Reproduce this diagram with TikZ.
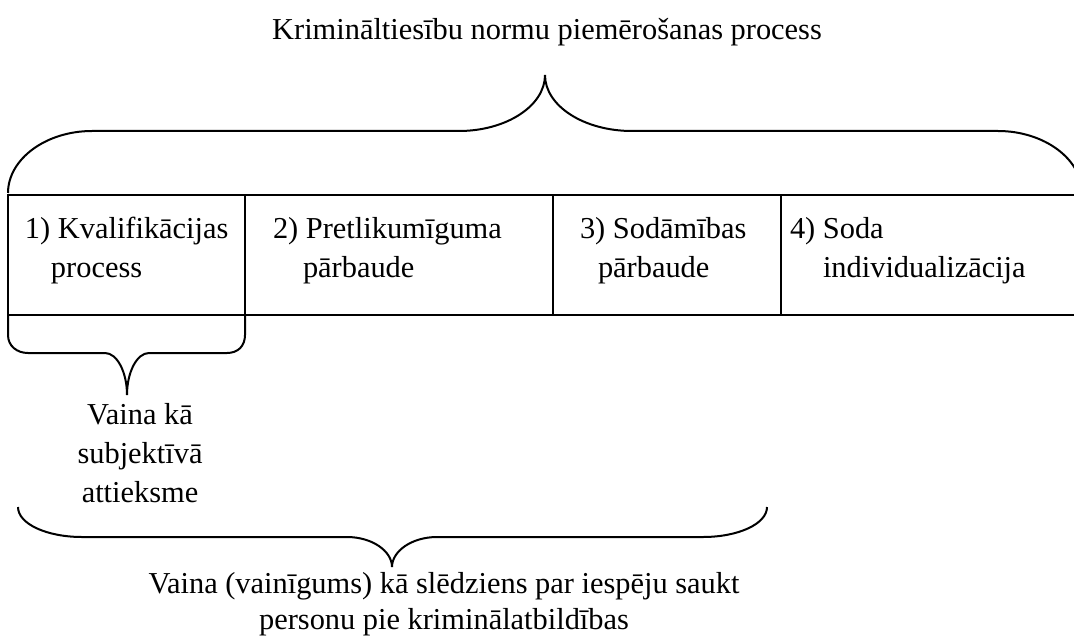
\documentclass[tikz,border=0pt]{standalone}
\usepackage{fontspec}
\setmainfont{Liberation Serif}
\usetikzlibrary{positioning}

\begin{document}
\begin{tikzpicture}[
    x=0.5pt, y=-0.5pt,
    line width=1pt,
    node distance = 0pt,
    cell/.style = {
        draw, rectangle, inner sep=0pt, outer sep=0pt,
        minimum height=60pt
    },
    celltext/.style = {
        align=left, anchor=north west, inner sep=0pt,
        font=\fontsize{15.2}{19.5}\selectfont
    },
    caption/.style = {
        align=center, inner sep=0pt,
        font=\fontsize{15.2}{19.5}\selectfont
    },
    brace/.style = {draw, line width=1pt}
]
\useasboundingbox (0,0) rectangle (1074,636);

% ── Title ──
\node[caption, anchor=base] (title) at (547,40) {Kriminālties\={\i}bu normu piemērošanas process};

% ── Table: four steps ──
\node[cell, anchor=north west, minimum width=118.5pt] (kval) at (8,195) {};
\node[cell, minimum width=154pt, right=of kval]  (pretl) {};
\node[cell, minimum width=114pt, right=of pretl] (sodam) {};
\node[cell, minimum width=154.5pt, right=of sodam] (indiv) {};

\node[celltext] (kvaltxt)  at ([xshift=8pt, yshift=-10.5pt]kval.north west)  {1) Kvalifikācijas\\\hspace*{13pt}process};
\node[celltext] (pretltxt) at ([xshift=13.5pt, yshift=-10.5pt]pretl.north west) {2) Pretlikum\={\i}guma\\\hspace*{15pt}pārbaude};
\node[celltext] (sodamtxt) at ([xshift=13pt, yshift=-10.5pt]sodam.north west) {3) Sodām\={\i}bas\\\hspace*{9pt}pārbaude};
\node[celltext] (indivtxt) at ([xshift=4pt, yshift=-10.5pt]indiv.north west)  {4) Soda\\\hspace*{16.5pt}individualizācija};

% ── Brace tips ──
\coordinate (toptip)   at (545,75);
\coordinate (smalltip) at (127,395);
\coordinate (bottip)   at (392,567);

% ── Top brace over the whole table ──
\draw[brace] (8,193) .. controls (8,159) and (46,131) .. (92,131) -- (459,131)
    .. controls (506,131) and (545,106) .. (toptip)
    .. controls (545,106) and (584,131) .. (632,131) -- (998,131)
    .. controls (1044,131) and (1082,159) .. (1082,193);

% ── Small brace under step 1 ──
\draw[brace] (kval.south west) -- (8,335) .. controls (8,346) and (17,353) .. (28,353) -- (105,353)
    .. controls (117,353) and (127,372) .. (smalltip)
    .. controls (127,372) and (137,353) .. (149,353) -- (227,353)
    .. controls (238,353) and (245,346) .. (245,335) -- (kval.south east);

% ── Bottom brace ──
\draw[brace] (18,507) .. controls (18,524) and (47,537) .. (82,537) -- (347,537)
    .. controls (372,537) and (392,551) .. (bottip)
    .. controls (392,551) and (412,537) .. (437,537) -- (703,537)
    .. controls (738,537) and (767,524) .. (767,507);

% ── Captions ──
\node[caption, anchor=north] (subj) at (140,402) {Vaina kā\\subjekt\={\i}vā\\attieksme};
\node[caption, anchor=north, font=\fontsize{15.2}{18}\selectfont] (slegt) at (444,571)
    {Vaina (vain\={\i}gums) kā slēdziens par iespēju saukt\\personu pie kriminālatbild\={\i}bas};

\end{tikzpicture}
\end{document}
